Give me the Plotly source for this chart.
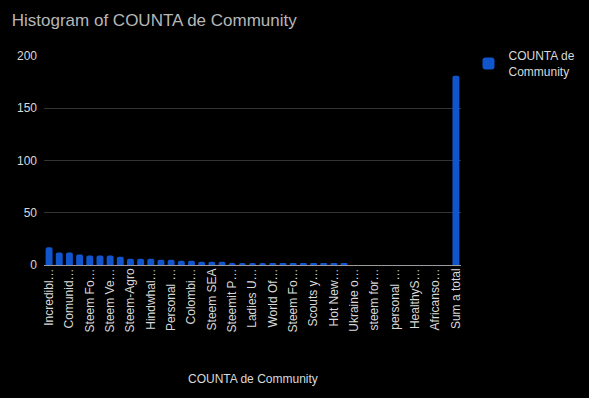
import plotly.graph_objects as go

tick_labels = ["Incredibl…", "Comunid…", "Steem Fo…", "Steem Ve…", "Steem-Agro",
               "Hindwhal…", "Personal …", "Colombi…", "Steem SEA", "Steemit P…",
               "Ladies U…", "World Of…", "Steem Fo…", "Scouts y…", "Hot New…",
               "Ukraine o…", "steem for…", "personal …", "HealthyS…", "Africanso…",
               "Sum a total"]
values = [17, 12, 12, 10, 9, 9, 9, 8, 6, 6,
          6, 5, 5, 4, 4, 3, 3, 3, 2, 2,
          2, 2, 1, 1, 1, 1, 1, 1, 1, 1,
          0, 0, 0, 0, 0, 0, 0, 0, 0, 0,
          181]
y_ticks = [0, 50, 100, 150, 200]

positions = list(range(len(values)))
tick_positions = positions[::2]

FONT = "Liberation Sans, Arial, sans-serif"

fig = go.Figure()
fig.add_trace(go.Bar(
    x=positions, y=values,
    name="COUNTA de<br>Community",
    marker=dict(color="#1155cc", line=dict(width=0), cornerradius=2),
    width=0.68,
))

fig.update_layout(
    width=589, height=398,
    paper_bgcolor="#000000", plot_bgcolor="#000000",
    margin=dict(l=44, r=128, t=56, b=133, autoexpand=False),
    font=dict(family=FONT, color="#d9d9d9", size=12),
    title=dict(text="Histogram of COUNTA de Community", x=0.02, xanchor="left",
               y=0.95, yanchor="middle",
               font=dict(family=FONT, size=17, color="#b7b7b7")),
    showlegend=True,
    legend=dict(x=1.018, y=1.07, xanchor="left", yanchor="top",
                font=dict(family=FONT, size=12, color="#d9d9d9"),
                bgcolor="rgba(0,0,0,0)", itemsizing="constant"),
    bargap=0.32,
)
fig.update_xaxes(
    range=[-0.5, len(values) - 0.5],
    tickmode="array", tickvals=tick_positions, ticktext=tick_labels,
    tickangle=-90, showgrid=False, zeroline=False, automargin=False,
    showline=False, ticks="", tickfont=dict(size=12, color="#d9d9d9"),
)
fig.update_yaxes(
    range=[0, 200], tickvals=y_ticks, showgrid=True, gridcolor="#333333",
    gridwidth=1, zeroline=True, zerolinecolor="#999999", zerolinewidth=1,
    showline=False, ticks="", tickfont=dict(size=12, color="#d9d9d9"),
    ticklabelstandoff=6, automargin=False,
)
fig.add_annotation(text="COUNTA de Community", xref="paper", yref="paper",
                   x=0.5, y=-0.545, xanchor="center", yanchor="middle",
                   showarrow=False, font=dict(family=FONT, size=12, color="#d9d9d9"))

fig.write_html("out.html", config={"displayModeBar": False},
               post_script="document.body.style.margin='0';document.body.style.background='#000';")
